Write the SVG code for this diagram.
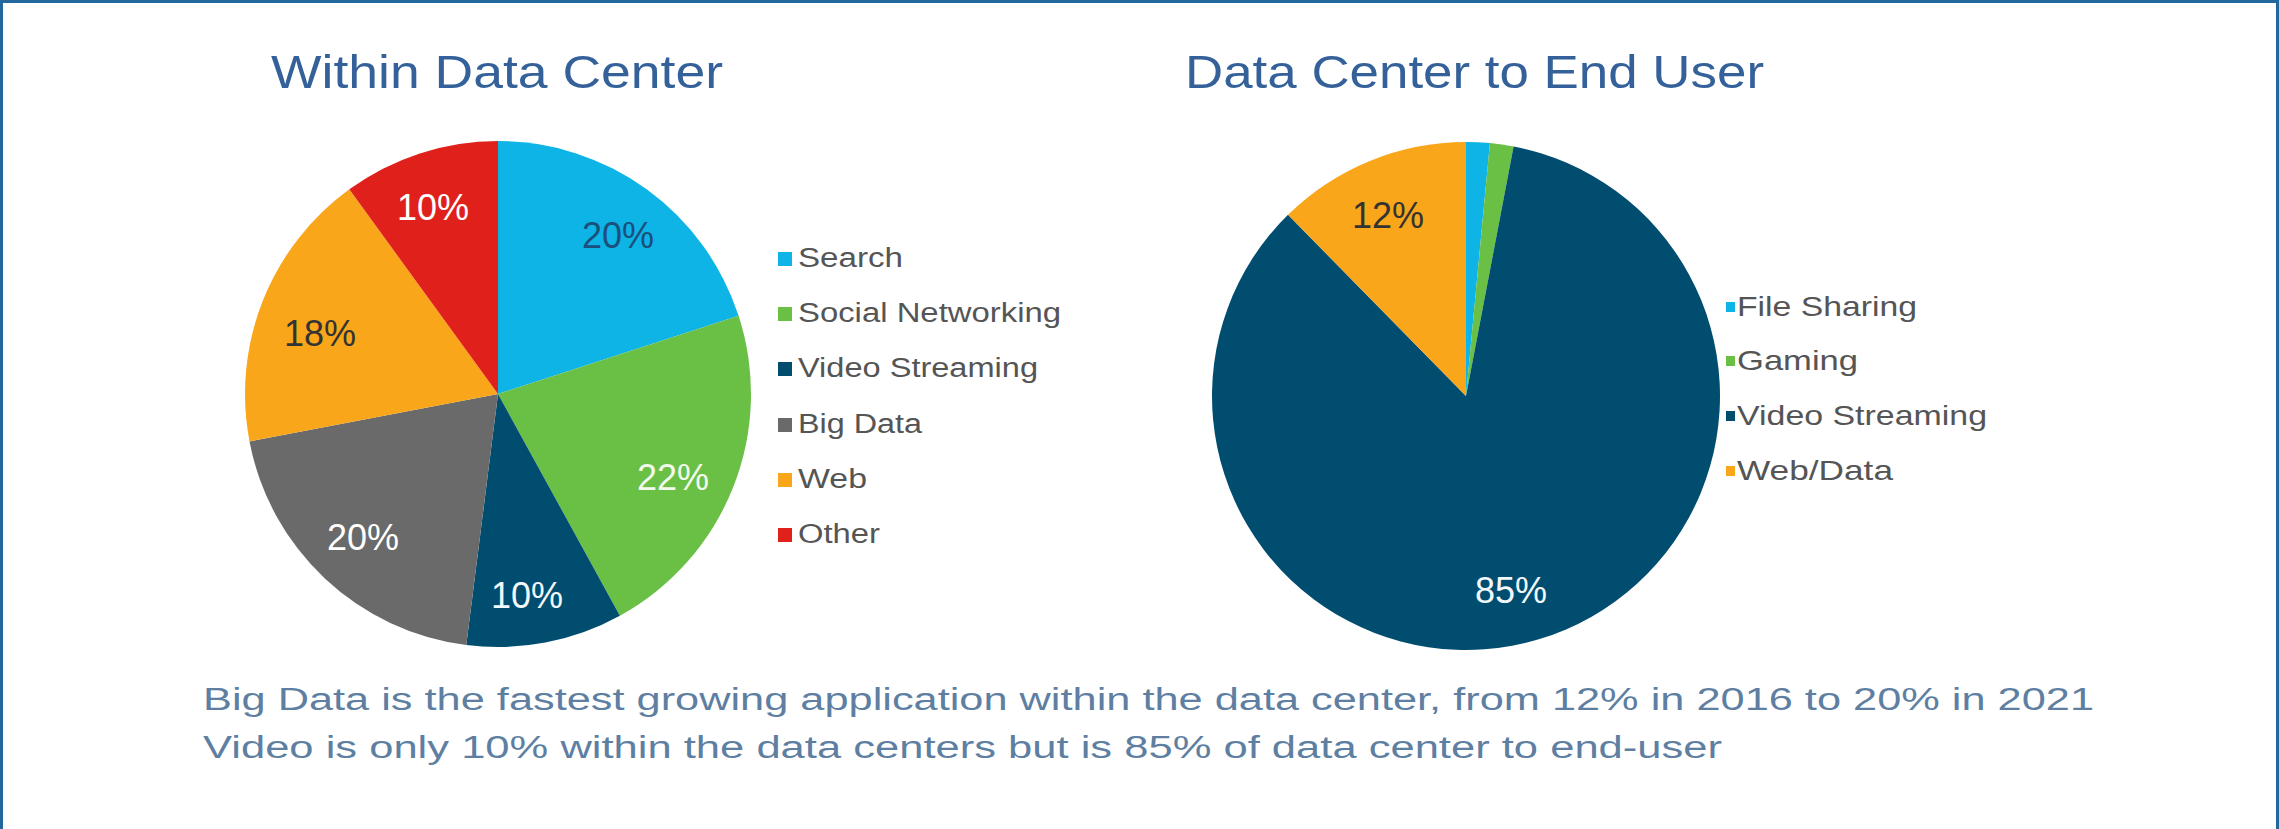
<svg xmlns="http://www.w3.org/2000/svg" width="2279" height="829" viewBox="0 0 2279 829">
  <style>
    text { font-family: "Liberation Sans", Arial, sans-serif; }
    .title { font-size: 47px; fill: #35619A; }
    .leg { font-size: 27px; fill: #555555; }
    .legR { font-size: 28.5px; fill: #555555; }
    .pct { font-size: 36px; text-anchor: middle; }
    .note { font-size: 31px; fill: #5E7FA2; }
    .search { fill: #0DB4E5; }
    .social { fill: #6ABF45; }
    .video { fill: #004D70; }
    .bigdata { fill: #6A6A6A; }
    .web { fill: #FAA61A; }
    .other { fill: #E0201B; }
  </style>
  <rect x="0" y="0" width="2279" height="829" fill="#FFFFFF"/>
  <path id="frame" d="M1.5,829 V1.5 H2277.5 V829" fill="none" stroke="#22689C" stroke-width="3"/>

  <g id="title-left"><text class="title" x="271" y="88" textLength="452" lengthAdjust="spacingAndGlyphs">Within Data Center</text></g>
  <g id="title-right"><text class="title" x="1185" y="88" textLength="579" lengthAdjust="spacingAndGlyphs">Data Center to End User</text></g>

  <g id="pie-left">
    <path class="search" d="M498,394 L498,141 A253,253 0 0 1 738.6,315.8 Z"/>
    <path class="social" d="M498,394 L738.6,315.8 A253,253 0 0 1 619.9,615.7 Z"/>
    <path class="video" d="M498,394 L619.9,615.7 A253,253 0 0 1 466.3,645 Z"/>
    <path class="bigdata" d="M498,394 L466.3,645 A253,253 0 0 1 249.5,441.4 Z"/>
    <path class="web" d="M498,394 L249.5,441.4 A253,253 0 0 1 349.3,189.3 Z"/>
    <path class="other" d="M498,394 L349.3,189.3 A253,253 0 0 1 498,141 Z"/>
    <text class="pct" x="618" y="248" fill="#1B4F7C">20%</text>
    <text class="pct" x="673" y="490" fill="#F2FAEE">22%</text>
    <text class="pct" x="527" y="608" fill="#F2F8FC">10%</text>
    <text class="pct" x="363" y="550" fill="#FFFFFF">20%</text>
    <text class="pct" x="320" y="346" fill="#333333">18%</text>
    <text class="pct" x="433" y="220" fill="#FFFFFF">10%</text>
  </g>

  <g id="legend-left">
    <rect class="search" x="778" y="252" width="14" height="14"/>
    <text class="leg" x="798" y="267" textLength="105" lengthAdjust="spacingAndGlyphs">Search</text>
    <rect class="social" x="778" y="307" width="14" height="14"/>
    <text class="leg" x="798" y="322" textLength="263" lengthAdjust="spacingAndGlyphs">Social Networking</text>
    <rect class="video" x="778" y="362" width="14" height="14"/>
    <text class="leg" x="798" y="377" textLength="240" lengthAdjust="spacingAndGlyphs">Video Streaming</text>
    <rect class="bigdata" x="778" y="418" width="14" height="14"/>
    <text class="leg" x="798" y="433" textLength="124" lengthAdjust="spacingAndGlyphs">Big Data</text>
    <rect class="web" x="778" y="473" width="14" height="14"/>
    <text class="leg" x="798" y="488" textLength="69" lengthAdjust="spacingAndGlyphs">Web</text>
    <rect class="other" x="778" y="528" width="14" height="14"/>
    <text class="leg" x="798" y="543" textLength="82" lengthAdjust="spacingAndGlyphs">Other</text>
  </g>

  <g id="pie-right">
    <path class="search" d="M1466,396 L1466,142 A254,254 0 0 1 1489.9,143.1 Z"/>
    <path class="social" d="M1466,396 L1489.9,143.1 A254,254 0 0 1 1513.6,146.5 Z"/>
    <path class="video" d="M1466,396 L1513.6,146.5 A254,254 0 1 1 1288,214.8 Z"/>
    <path class="web" d="M1466,396 L1288,214.8 A254,254 0 0 1 1466,142 Z"/>
    <text class="pct" x="1388" y="228" fill="#333333">12%</text>
    <text class="pct" x="1511" y="603" fill="#F2F8FC">85%</text>
  </g>

  <g id="legend-right">
    <rect class="search" x="1726" y="302" width="9" height="10"/>
    <text class="legR" x="1737" y="316" textLength="180" lengthAdjust="spacingAndGlyphs">File Sharing</text>
    <rect class="social" x="1726" y="356" width="9" height="10"/>
    <text class="legR" x="1737" y="370" textLength="121" lengthAdjust="spacingAndGlyphs">Gaming</text>
    <rect class="video" x="1726" y="411" width="9" height="10"/>
    <text class="legR" x="1737" y="425" textLength="250" lengthAdjust="spacingAndGlyphs">Video Streaming</text>
    <rect class="web" x="1726" y="466" width="9" height="10"/>
    <text class="legR" x="1737" y="480" textLength="156" lengthAdjust="spacingAndGlyphs">Web/Data</text>
  </g>

  <g id="notes">
    <text class="note" x="203" y="710" textLength="1891" lengthAdjust="spacingAndGlyphs">Big Data is the fastest growing application within the data center, from 12% in 2016 to 20% in 2021</text>
    <text class="note" x="203" y="758" textLength="1519" lengthAdjust="spacingAndGlyphs">Video is only 10% within the data centers but is 85% of data center to end-user</text>
  </g>
</svg>
